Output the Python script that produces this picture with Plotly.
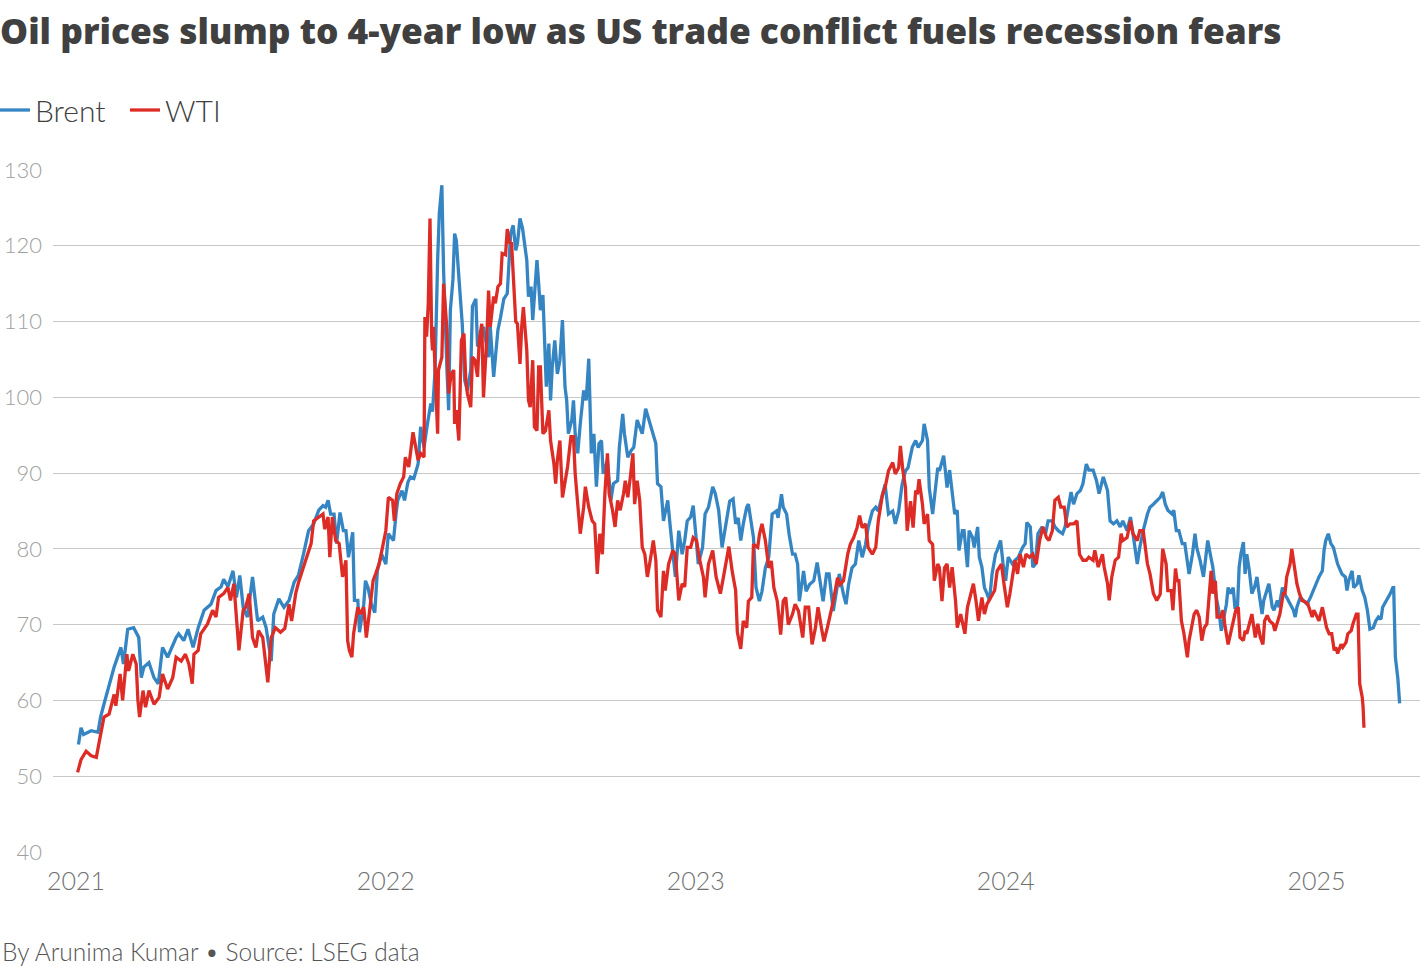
import pandas as pd
import plotly.graph_objects as go

title_text = "Oil prices slump to 4-year low as US trade conflict fuels recession fears"
footer_text = "By Arunima Kumar \u2022 Source: LSEG data"
series_names = ["Brent", "WTI"]
y_ticks = [40, 50, 60, 70, 80, 90, 100, 110, 120, 130]
x_ticks = ["2021-01-01", "2022-01-01", "2023-01-01", "2024-01-01", "2025-01-01"]
x_tick_labels = ["2021", "2022", "2023", "2024", "2025"]

# days since 2021-01-01
brent_day = [3,6,9,18,26,29,33,41,45,53,56,61,68,74,77,80,86,92,97,102,108,118,121,127,132,138,144,151,159,165,171,174,179,185,189,193,197,202,208,214,220,224,230,233,239,245,251,257,262,268,274,280,286,291,294,297,300,304,307,311,315,318,321,326,328,332,334,339,341,344,348,352,355,360,365,368,374,377,379,384,387,391,394,398,403,406,410,414,418,420,423,426,428,431,433,437,439,441,444,446,448,451,453,455,458,461,465,467,471,473,477,480,486,488,492,497,500,504,508,512,515,518,520,523,526,528,531,533,536,538,540,543,545,547,550,552,554,557,559,561,564,567,570,573,576,578,580,584,586,588,591,594,598,601,604,607,610,613,616,619,621,626,630,633,638,640,644,646,650,654,657,661,667,671,674,679,683,685,689,692,697,700,704,706,710,714,717,720,724,727,730,733,738,741,745,750,753,757,761,766,770,774,777,780,783,786,790,792,796,798,801,805,808,812,816,820,825,827,831,833,837,840,844,847,850,852,857,860,864,869,873,876,880,884,887,892,896,899,904,907,910,914,918,922,926,930,933,938,942,945,950,953,957,962,965,969,973,977,980,985,989,992,997,999,1003,1005,1009,1011,1015,1017,1022,1024,1026,1029,1032,1035,1038,1040,1044,1046,1050,1052,1056,1058,1062,1064,1067,1070,1073,1076,1079,1083,1085,1089,1092,1095,1098,1103,1106,1110,1115,1118,1120,1124,1127,1130,1133,1138,1142,1145,1150,1153,1157,1162,1165,1169,1172,1175,1179,1183,1186,1190,1193,1198,1202,1205,1210,1215,1218,1222,1226,1230,1233,1238,1242,1245,1250,1253,1257,1262,1265,1269,1273,1277,1280,1283,1286,1291,1293,1296,1299,1303,1306,1309,1311,1315,1318,1320,1324,1328,1331,1333,1336,1339,1343,1346,1349,1351,1355,1357,1360,1363,1365,1368,1370,1372,1375,1377,1379,1382,1385,1388,1391,1393,1397,1399,1403,1405,1409,1411,1415,1417,1421,1423,1426,1430,1434,1436,1438,1442,1445,1450,1454,1457,1462,1464,1468,1470,1472,1475,1478,1481,1483,1486,1491,1495,1497,1499,1503,1505,1509,1511,1515,1518,1521,1524,1528,1531,1534,1537,1539,1544,1548,1551,1552,1554,1556,1557,1559]
brent_val = [54.2,56.4,55.5,56.0,55.8,57.8,59.5,62.6,64.4,67.0,64.8,69.4,69.6,68.3,63.0,64.4,65.0,63.0,62.2,67.0,65.7,68.3,68.8,67.9,69.4,67.0,69.6,71.9,72.7,74.5,75.0,76.0,75.0,77.1,73.6,76.5,72.3,71.0,76.3,70.5,71.0,69.6,65.2,71.4,73.4,72.3,73.2,75.6,76.5,79.3,82.4,83.3,85.1,85.7,85.5,86.4,84.6,84.6,80.7,84.8,82.4,82.4,78.9,82.2,73.2,73.2,69.0,72.7,75.8,74.9,72.7,71.6,77.1,79.3,78.0,82.0,81.1,84.6,86.4,87.7,86.4,88.8,89.5,89.3,91.2,96.1,93.4,96.5,99.2,98.1,103.6,118.1,124.3,128.0,116.8,103.6,98.3,111.5,115.5,121.6,120.7,115.9,113.3,109.7,102.2,100.9,103.6,112.0,113.0,106.7,107.5,109.3,105.3,109.3,102.7,108.9,110.5,113.0,113.7,121.6,122.7,119.4,120.3,123.6,122.3,120.7,118.1,113.3,114.6,110.2,114.1,118.1,115.0,111.5,113.5,106.2,101.4,107.1,99.6,104.0,107.5,103.1,104.9,110.2,101.4,99.6,95.2,97.0,99.6,95.2,92.6,96.5,100.9,99.6,105.1,92.6,95.2,88.2,93.9,94.3,89.9,91.7,86.4,88.6,89.0,93.4,97.8,95.2,92.1,93.0,93.4,97.0,95.2,98.5,97.4,95.6,93.9,88.6,88.2,83.7,86.4,82.9,78.9,76.3,82.4,79.3,81.1,83.7,84.2,85.7,82.0,78.0,80.2,84.6,85.5,88.2,87.3,85.1,80.2,83.7,86.3,86.6,83.3,84.1,81.1,83.3,85.5,85.9,82.4,81.5,74.9,73.1,74.4,77.5,78.9,84.6,85.0,84.1,87.2,85.5,84.6,81.9,79.3,79.3,78.0,73.1,77.1,74.4,75.3,75.8,78.2,75.8,73.1,76.7,76.7,71.8,74.9,76.7,74.0,72.7,75.3,77.5,78.0,81.1,78.9,80.6,82.8,85.0,85.5,85.0,87.2,88.5,84.6,85.0,83.3,85.0,88.5,90.3,90.7,93.4,94.3,93.4,94.3,96.5,94.3,88.1,84.6,86.8,90.7,90.3,92.3,90.3,88.1,90.4,87.7,84.6,85.1,79.8,82.4,82.4,77.6,82.4,81.5,80.2,82.9,78.9,77.6,74.9,74.1,73.2,76.7,79.3,79.8,81.1,78.0,75.8,78.9,78.0,78.5,78.9,80.2,80.7,83.5,82.9,77.6,78.0,82.0,82.9,82.0,83.7,83.7,82.9,82.4,82.0,82.9,85.9,87.5,85.9,87.3,87.7,88.6,91.2,90.4,90.4,89.0,87.3,89.5,87.7,83.7,83.3,83.7,82.9,83.7,82.4,84.2,82.0,78.0,80.2,82.4,84.6,85.5,85.9,86.4,86.8,87.5,85.9,85.1,84.6,85.1,82.4,82.4,80.7,80.7,78.5,76.7,79.3,82.0,80.2,78.5,76.3,79.3,81.1,79.3,77.6,73.6,71.9,69.2,70.5,72.7,74.9,74.1,74.9,72.3,72.3,77.6,79.3,80.9,76.7,79.3,77.1,74.1,74.9,76.3,74.5,71.4,73.2,74.9,75.4,72.3,71.9,73.2,72.3,74.9,74.1,73.6,72.7,71.9,71.0,72.3,73.6,73.2,72.7,73.6,74.5,75.8,76.3,77.1,79.8,81.1,82.0,80.7,80.2,79.3,78.0,76.7,76.3,74.5,75.8,77.1,74.9,75.4,76.5,74.5,73.6,71.9,69.4,69.6,70.5,71.0,70.7,72.3,73.2,74.1,74.9,74.9,65.7,64.0,62.8,59.6]

wti_day = [2,6,12,18,24,27,33,39,45,47,52,55,60,62,67,71,73,75,79,82,86,92,98,102,108,114,118,124,129,133,137,139,144,147,155,161,165,168,174,179,182,186,188,192,197,200,204,208,212,215,220,224,226,230,235,241,246,251,254,259,262,268,273,277,280,286,291,293,297,299,302,306,310,314,318,320,322,325,327,332,335,339,342,345,350,353,357,360,365,368,373,375,378,382,386,388,392,397,400,403,406,410,411,413,415,417,419,420,421,424,426,427,431,433,434,437,439,442,445,446,448,451,454,457,459,461,465,467,470,473,475,478,480,484,486,488,492,494,497,500,502,506,508,511,513,515,518,520,523,525,527,531,533,535,538,540,543,545,547,550,553,557,559,563,565,567,570,573,576,579,583,586,588,591,594,598,600,604,608,611,614,617,620,623,626,628,632,635,638,641,645,647,650,653,656,658,661,664,667,670,673,677,680,683,685,689,692,694,698,703,706,710,714,717,720,724,727,731,734,739,741,745,750,754,759,763,769,773,777,779,783,786,790,792,796,798,803,805,808,812,816,819,822,826,830,833,836,839,844,847,851,856,859,863,867,871,874,878,881,885,889,892,897,900,904,909,912,916,920,923,926,930,933,938,942,945,950,953,957,962,965,969,971,974,977,979,983,986,989,991,993,997,999,1003,1005,1009,1011,1015,1017,1020,1023,1026,1029,1032,1036,1038,1042,1045,1047,1050,1053,1057,1060,1063,1067,1070,1073,1078,1082,1085,1090,1093,1097,1100,1104,1106,1109,1112,1116,1119,1123,1127,1131,1135,1139,1143,1146,1150,1153,1157,1160,1164,1167,1171,1175,1179,1182,1186,1190,1193,1198,1200,1204,1209,1211,1215,1217,1220,1224,1228,1231,1233,1238,1242,1245,1250,1253,1257,1262,1265,1269,1273,1277,1280,1284,1286,1290,1292,1295,1297,1299,1302,1305,1309,1311,1315,1317,1320,1323,1326,1329,1332,1335,1337,1339,1342,1344,1348,1351,1353,1357,1360,1363,1366,1369,1371,1375,1377,1379,1383,1385,1389,1392,1395,1398,1400,1403,1406,1410,1412,1415,1418,1422,1424,1426,1430,1432,1435,1438,1441,1444,1448,1451,1456,1458,1462,1464,1468,1470,1473,1476,1479,1482,1484,1486,1490,1492,1496,1498,1502,1504,1508,1510,1512,1515,1516,1517]
wti_val = [50.5,52.2,53.3,52.7,52.5,54.2,57.8,58.2,60.8,59.3,63.5,60.0,66.1,63.9,66.1,64.8,60.0,57.8,61.3,59.1,61.3,59.5,60.4,63.5,61.5,63.0,65.7,65.2,66.1,64.8,62.2,66.1,66.6,68.8,70.1,71.9,71.0,73.6,74.1,74.9,73.2,75.4,71.9,66.6,71.9,72.3,74.1,68.3,67.0,69.2,68.3,63.9,62.4,68.3,69.6,69.0,69.5,72.7,70.5,74.2,75.5,77.6,79.3,80.7,83.7,84.2,84.6,82.6,84.2,78.9,84.2,81.1,80.7,76.3,78.5,67.9,66.6,65.7,68.8,72.3,71.4,72.3,68.3,71.0,75.8,76.7,78.0,79.6,82.4,86.8,86.4,83.7,87.3,88.6,89.5,92.1,90.8,95.4,93.4,91.7,92.6,92.1,110.6,108.0,112.4,123.6,108.0,106.2,109.3,99.2,95.2,103.6,105.3,115.0,113.3,108.9,100.5,103.1,103.6,96.5,98.3,94.3,107.5,108.4,102.7,100.5,98.7,105.3,104.9,102.7,107.5,109.7,100.0,108.0,114.1,109.3,113.3,112.4,114.6,115.0,119.0,118.8,122.2,120.3,120.5,115.5,110.0,109.7,104.4,109.3,111.9,106.2,99.6,98.7,104.9,96.1,95.6,104.0,104.0,95.2,95.6,98.3,94.3,91.2,88.6,91.7,94.3,86.8,88.6,90.8,94.8,94.8,89.9,86.4,82.0,85.5,88.2,85.5,83.7,83.3,76.7,82.0,79.3,87.3,92.6,87.3,85.1,82.9,86.4,85.1,87.3,89.0,86.8,89.5,92.6,85.9,89.0,86.4,80.2,79.3,76.3,78.9,81.1,78.5,71.9,71.0,77.1,74.5,78.0,79.8,79.3,73.2,75.4,75.0,80.2,80.2,81.5,81.1,78.9,76.3,73.6,78.0,79.8,76.3,74.1,76.5,80.3,77.0,74.5,69.0,66.8,70.5,69.6,73.1,73.6,80.6,80.2,81.9,83.3,81.1,77.5,78.4,74.9,73.1,68.7,73.1,73.6,70.0,71.4,72.7,71.8,68.3,72.3,72.3,67.4,69.6,72.3,69.6,67.8,69.6,71.4,73.1,76.2,75.3,75.8,79.3,80.6,81.5,82.8,84.4,82.8,83.3,80.2,79.3,80.2,83.7,87.2,88.1,90.3,91.4,89.9,90.7,93.6,90.3,88.1,82.4,86.3,82.8,87.7,87.2,89.2,85.9,83.3,84.6,81.1,80.6,75.8,78.0,77.5,73.1,77.5,78.0,74.9,77.6,73.1,69.6,71.4,69.6,68.8,72.3,73.6,75.4,73.2,70.5,73.6,71.4,72.7,73.6,74.5,77.1,78.0,75.4,72.3,74.1,77.1,78.5,76.7,79.3,77.6,79.3,78.9,79.3,78.0,81.1,82.9,81.5,81.1,82.4,86.4,86.8,85.5,85.5,82.9,83.3,83.3,83.7,79.3,78.5,78.5,78.9,78.5,79.8,77.6,79.3,77.6,75.4,73.2,76.3,78.5,78.9,82.0,81.1,81.5,83.7,82.0,81.1,82.4,82.4,78.0,76.7,74.1,73.2,74.0,80.0,78.0,74.5,74.5,71.9,77.4,75.8,75.8,70.5,68.8,65.7,67.9,70.5,71.4,71.9,71.0,67.9,69.6,70.1,74.1,77.1,74.1,75.8,71.0,71.0,71.9,70.1,67.4,68.8,70.5,71.9,72.3,68.3,67.9,69.2,68.8,70.5,71.4,68.3,70.1,68.3,67.4,70.5,71.2,70.5,70.1,69.2,70.5,71.4,74.1,74.1,76.3,78.0,80.0,78.0,75.4,74.1,73.2,73.0,72.7,71.0,71.9,71.0,70.5,72.3,71.0,69.6,68.8,68.8,66.6,67.0,66.2,67.4,67.0,67.7,68.8,69.2,70.1,71.4,71.4,62.2,60.4,59.1,56.4]

base = pd.Timestamp("2021-01-01")
brent_dates = base + pd.to_timedelta(brent_day, unit="D")
wti_dates = base + pd.to_timedelta(wti_day, unit="D")

BLUE = "#3585c3"
RED = "#dd2c26"
FONT = "Lato"
TITLE_FONT = "Open Sans"

fig = go.Figure()
fig.add_trace(go.Scatter(x=brent_dates, y=brent_val, name=series_names[0], mode="lines",
                         line=dict(color=BLUE, width=3.3)))
fig.add_trace(go.Scatter(x=wti_dates, y=wti_val, name=series_names[1], mode="lines",
                         line=dict(color=RED, width=3.3)))

W, H = 1420, 966
L, R, T, B = 53, 0, 170, 114
pw, ph = W - L - R, H - T - B

fig.update_layout(
    width=W, height=H,
    margin=dict(l=L, r=R, t=T, b=B, autoexpand=False),
    paper_bgcolor="white", plot_bgcolor="white",
    font=dict(family=FONT, color="#404040"),
    title=dict(text=title_text, x=0, xref="container", xanchor="left",
               y=1 - 32 / H, yref="container", yanchor="middle",
               font=dict(family=TITLE_FONT, size=35.3, color="#404040", weight=800)),
    showlegend=True,
    legend=dict(orientation="h", x=-(L + 5) / pw, xanchor="left", y=1 + (170 - 110) / ph, yanchor="middle",
                font=dict(family=FONT, size=30, color="#404040", weight=300),
                itemwidth=30, entrywidth=85, tracegroupgap=0, bgcolor="rgba(0,0,0,0)"),
    xaxis=dict(type="date", range=["2020-12-05", "2025-05-03"], automargin=False,
               tickvals=x_ticks, ticktext=x_tick_labels, showgrid=False, zeroline=False,
               showline=False, ticks="", tickfont=dict(family=FONT, size=25, color="#707070", weight=300),
               ticklabelstandoff=12),
    yaxis=dict(range=[40, 130], tickvals=y_ticks, showgrid=True, gridcolor="#c8c8c8", gridwidth=1.4,
               zeroline=False, showline=False, ticks="", automargin=False,
               tickfont=dict(family=FONT, size=22, color="#a0a0a0", weight=300),
               ticklabelstandoff=10),
    annotations=[dict(text=footer_text, xref="paper", yref="paper", x=-L / pw, xanchor="left",
                      y=-(951 - 852) / ph, yanchor="middle", showarrow=False,
                      font=dict(family=FONT, size=24.5, color="#555555", weight=300))],
)

fig.write_html("out.html")
